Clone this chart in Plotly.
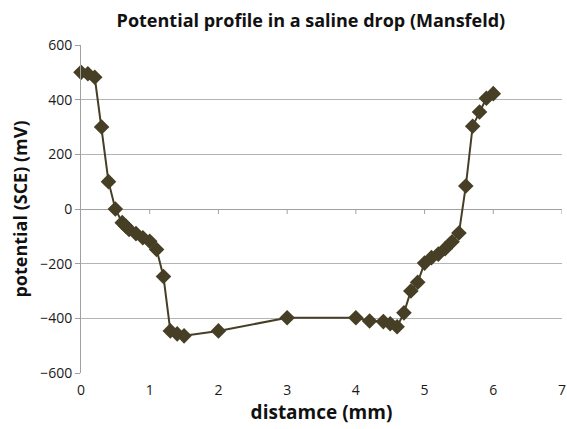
import plotly.graph_objects as go

distance_mm = [0, 0.1, 0.2, 0.3, 0.4, 0.5, 0.6, 0.65, 0.7, 0.8, 0.9, 1.0, 1.1, 1.2,
               1.3, 1.4, 1.5, 2.0, 3.0, 4.0, 4.2, 4.4, 4.5, 4.6, 4.7, 4.8, 4.9,
               5.0, 5.1, 5.2, 5.3, 5.4, 5.5, 5.6, 5.7, 5.8, 5.9, 6.0]
potential_mv = [500, 495, 482, 300, 100, 0, -50, -62, -75, -90, -105, -118, -148, -247,
                -446, -457, -464, -446, -398, -398, -410, -412, -420, -431, -380, -300, -268,
                -198, -178, -165, -145, -120, -88, 84, 303, 355, 405, 422]

x_ticks = [0, 1, 2, 3, 4, 5, 6, 7]
y_ticks = [-600, -400, -200, 0, 200, 400, 600]

color = "#463F26"
axis_grey = "#A0A0A0"
grid_grey = "#B4B4B4"
font = "Open Sans, Liberation Sans, sans-serif"

fig = go.Figure()
fig.add_trace(go.Scatter(
    x=distance_mm, y=potential_mv, mode="lines+markers",
    line=dict(color=color, width=2),
    marker=dict(symbol="diamond", size=12, color=color),
    showlegend=False, cliponaxis=False,
))

# small tick marks along the horizontal axis crossing at y=0
for t in x_ticks[1:]:
    fig.add_shape(type="line", xref="x", yref="y", x0=t, x1=t,
                  ysizemode="pixel", yanchor=0, y0=0, y1=-5,
                  line=dict(color=axis_grey, width=1), layer="below")

fig.update_layout(
    width=567, height=429,
    margin=dict(l=81, r=5, t=45, b=56),
    paper_bgcolor="white", plot_bgcolor="rgba(0,0,0,0)",
    font=dict(family=font, size=14, color="#1a1a1a"),
    title=dict(text="<b>Potential profile in a saline drop (Mansfeld)</b>",
               x=0.478, xref="paper", y=0.952, yref="container",
               xanchor="center", yanchor="middle",
               font=dict(size=18, color="#111", family=font)),
    xaxis=dict(range=[0, 7], tickvals=x_ticks, showgrid=False, zeroline=False,
               showline=False, ticks="outside", ticklen=4, tickcolor="rgba(0,0,0,0)",
               automargin=False, tickfont=dict(size=14),
               title=dict(text="<b>distamce (mm)</b>", font=dict(size=19, color="#111"), standoff=5)),
    yaxis=dict(range=[-600, 600], tickvals=y_ticks, showgrid=True, gridcolor=grid_grey,
               gridwidth=1.2, zeroline=True, zerolinecolor=axis_grey, zerolinewidth=1.2,
               showline=True, linecolor=axis_grey,
               linewidth=1, ticks="outside", ticklen=5, tickcolor=axis_grey,
               tickfont=dict(size=14), automargin=False,
               title=dict(text="<b>potential (SCE) (mV)</b>", font=dict(size=18, color="#111"), standoff=7)),
)

fig.write_html("out.html", config={"displayModeBar": False},
               post_script="document.body.style.margin='0';")
